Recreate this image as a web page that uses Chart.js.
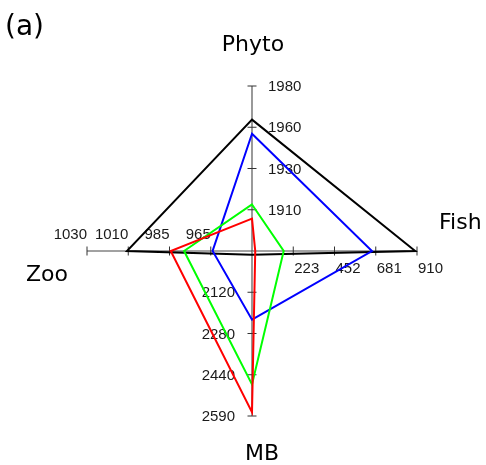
<!DOCTYPE html>
<html>
<head>
<meta charset="utf-8">
<script src="https://cdn.jsdelivr.net/npm/chart.js@4"></script>
<style>
html, body { margin: 0; padding: 0; background: #fff; }
</style>
</head>
<body>
<canvas id="myChart" width="486" height="465"></canvas>
<script>
const eixos = ['Phyto', 'Fish', 'MB', 'Zoo'];
// labels dos ticks de cada eixo (do centro pra fora)
const ticksPhyto = [1910, 1930, 1960, 1980];
const ticksFish = [223, 452, 681, 910];
const ticksMB = [2120, 2280, 2440, 2590];
const ticksZoo = [965, 985, 1010, 1030];
// cada eixo tem sua propria escala: valor no centro e valor na ponta
const minimos = [1886.7, -6, 1963.3, 943.3];
const maximos = [1980, 910, 2590, 1030];

// series (Phyto, Fish, MB, Zoo)
const serieBlack = [1961, 900, 1978, 1009];
const serieBlue = [1953, 660, 2224, 964];
const serieGreen = [1913, 170, 2470, 979];
const serieRed = [1905, 12, 2576, 986];

const todosTicks = [ticksPhyto, ticksFish, ticksMB, ticksZoo];

// joga cada valor pra 0..1 usando a escala do eixo dele
const normaliza = (serie) => serie.map((v, i) => (v - minimos[i]) / (maximos[i] - minimos[i]));

const eixosPlugin = {
    id: 'eixos',
    beforeDatasetsDraw(chart) {
        const ctx = chart.ctx;
        const r = chart.scales.r;
        const raio = r.drawingArea;
        ctx.save();
        for (let i = 0; i < eixos.length; i++) {
            const fim = r.getPointPosition(i, raio);
            const vertical = (i === 0 || i === 2);
            // linha do eixo
            ctx.beginPath();
            ctx.strokeStyle = vertical ? '#808080' : '#444';
            ctx.lineWidth = vertical ? 1.6 : 1;
            ctx.moveTo(r.xCenter, r.yCenter);
            ctx.lineTo(fim.x, fim.y);
            ctx.stroke();

            // ticks + labels
            const ticks = todosTicks[i];
            ctx.font = '15px "Liberation Sans", Arial, sans-serif';
            ctx.fillStyle = '#1a1a1a';
            ticks.forEach((t, k) => {
                const p = r.getPointPosition(i, raio * (k + 1) / ticks.length);
                ctx.beginPath();
                ctx.strokeStyle = '#333';
                ctx.lineWidth = 1;
                if (vertical) {
                    ctx.moveTo(p.x - 4.5, p.y);
                    ctx.lineTo(p.x + 4.5, p.y);
                } else {
                    ctx.moveTo(p.x, p.y - 4.5);
                    ctx.lineTo(p.x, p.y + 4.5);
                }
                ctx.stroke();
                if (i === 0) {
                    ctx.textAlign = 'left'; ctx.textBaseline = 'middle';
                    ctx.fillText(String(t), p.x + 16, p.y + 1);
                } else if (i === 1) {
                    ctx.textAlign = 'left'; ctx.textBaseline = 'middle';
                    ctx.fillText(String(t), p.x + 1, p.y + 18);
                } else if (i === 2) {
                    ctx.textAlign = 'right'; ctx.textBaseline = 'middle';
                    ctx.fillText(String(t), p.x - 17, p.y + 1);
                } else {
                    ctx.textAlign = 'right'; ctx.textBaseline = 'middle';
                    ctx.fillText(String(t), p.x, p.y - 16);
                }
            });
        }

        // nomes dos eixos
        ctx.font = '22px "DejaVu Sans", Verdana, sans-serif';
        ctx.fillStyle = '#000';
        ctx.textBaseline = 'alphabetic';
        let p = r.getPointPosition(0, raio);
        ctx.textAlign = 'center';
        ctx.fillText(eixos[0], p.x + 1, p.y - 35);
        p = r.getPointPosition(1, raio);
        ctx.textAlign = 'left';
        ctx.fillText(eixos[1], p.x + 22, p.y - 22);
        p = r.getPointPosition(2, raio);
        ctx.textAlign = 'center';
        ctx.fillText(eixos[2], p.x + 10, p.y + 44);
        p = r.getPointPosition(3, raio);
        ctx.textAlign = 'right';
        ctx.fillText(eixos[3], p.x - 19, p.y + 30);

        // letra do painel
        ctx.font = '28px "DejaVu Sans", Verdana, sans-serif';
        ctx.textAlign = 'left';
        ctx.fillText('(a)', 5, 35);
        ctx.restore();
    }
};

const data = {
    labels: eixos,
    datasets: [
        { label: 'red', data: normaliza(serieRed), borderColor: '#ff0000' },
        { label: 'green', data: normaliza(serieGreen), borderColor: '#00ff00' },
        { label: 'blue', data: normaliza(serieBlue), borderColor: '#0000ff' },
        { label: 'black', data: normaliza(serieBlack), borderColor: '#000000' }
    ].map(d => Object.assign(d, {
        borderWidth: 2,
        pointRadius: 0,
        fill: false,
        backgroundColor: 'rgba(0,0,0,0)'
    }))
};

const options = {
    responsive: false,
    animation: false,
    layout: { padding: { top: 86, bottom: 49, left: 60, right: 42 } },
    plugins: {
        legend: { display: false },
        tooltip: { enabled: false }
    },
    scales: {
        r: {
            min: 0,
            max: 1,
            ticks: { display: false },
            grid: { display: false },
            angleLines: { display: false },
            pointLabels: { display: false }
        }
    }
};

const config = {
    type: 'radar',
    data: data,
    options: options,
    plugins: [eixosPlugin]
};

const myChart = new Chart(document.getElementById('myChart'), config);
</script>
</body>
</html>
